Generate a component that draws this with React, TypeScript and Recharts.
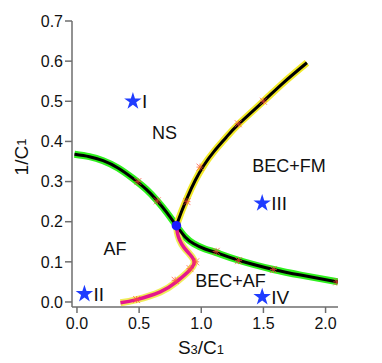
import React from 'react';
import {
  ComposedChart,
  Line,
  Scatter,
  XAxis,
  YAxis,
  Symbols,
} from 'recharts';

// phase boundaries (x = s3/c1, y = 1/c1)
const afBoundary = [
  { x: -0.02, y: 0.368 }, { x: 0.1, y: 0.362 }, { x: 0.21, y: 0.352 },
  { x: 0.33, y: 0.334 }, { x: 0.45, y: 0.308 }, { x: 0.56, y: 0.28 },
  { x: 0.64, y: 0.254 }, { x: 0.72, y: 0.224 }, { x: 0.8, y: 0.19 },
  { x: 0.87, y: 0.162 }, { x: 0.94, y: 0.145 }, { x: 1.03, y: 0.132 },
  { x: 1.12, y: 0.123 }, { x: 1.3, y: 0.104 }, { x: 1.58, y: 0.081 },
  { x: 1.8, y: 0.067 }, { x: 2.1, y: 0.05 },
];

const fmBoundary = [
  { x: 0.8, y: 0.19 }, { x: 0.84, y: 0.224 }, { x: 0.89, y: 0.262 },
  { x: 0.95, y: 0.302 }, { x: 1.02, y: 0.34 }, { x: 1.1, y: 0.374 },
  { x: 1.2, y: 0.41 }, { x: 1.3, y: 0.443 }, { x: 1.5, y: 0.5 },
  { x: 1.66, y: 0.546 }, { x: 1.85, y: 0.596 },
];

const becAfBoundary = [
  { x: 0.8, y: 0.19 }, { x: 0.808, y: 0.172 }, { x: 0.825, y: 0.155 },
  { x: 0.86, y: 0.136 }, { x: 0.905, y: 0.12 }, { x: 0.938, y: 0.106 },
  { x: 0.94, y: 0.094 }, { x: 0.9, y: 0.077 }, { x: 0.8, y: 0.05 },
  { x: 0.67, y: 0.025 }, { x: 0.48, y: 0.006 }, { x: 0.35, y: -0.002 },
];

// computed points (red crosses)
const samples = [
  { x: 0.49, y: 0.3 }, { x: 0.646, y: 0.252 }, { x: 1.12, y: 0.126 },
  { x: 1.3, y: 0.103 }, { x: 1.58, y: 0.081 }, { x: 2.09, y: 0.05 },
  { x: 0.885, y: 0.25 }, { x: 0.99, y: 0.336 }, { x: 1.298, y: 0.444 },
  { x: 1.5, y: 0.5 },
  { x: 0.955, y: 0.1 }, { x: 0.91, y: 0.083 }, { x: 0.79, y: 0.054 },
  { x: 0.48, y: 0.006 },
];

const triplePoint = [{ x: 0.8, y: 0.19 }];

const stars = [
  { x: 0.45, y: 0.5, name: 'I' },
  { x: 0.06, y: 0.02, name: 'II' },
  { x: 1.49, y: 0.246, name: 'III' },
  { x: 1.49, y: 0.0125, name: 'IV' },
];

const phaseLabels = [
  { x: 0.704, y: 0.4225, name: 'NS' },
  { x: 1.706, y: 0.34, name: 'BEC+FM' },
  { x: 0.306, y: 0.134, name: 'AF' },
  { x: 1.235, y: 0.054, name: 'BEC+AF' },
];

const xTicks = [0, 0.5, 1, 1.5, 2];
const yTicks = [0, 0.1, 0.2, 0.3, 0.4, 0.5, 0.6, 0.7];

const font = '"Liberation Sans", Arial, Helvetica, sans-serif';
const axisColor = '#6e6e6e';

const Cross = ({ cx, cy }: any) => {
  const r = 3.5;
  return (
    <g stroke="#ff4a3a" strokeWidth={1} opacity={0.7}>
      <line x1={cx - r} y1={cy - r} x2={cx + r} y2={cy + r} />
      <line x1={cx - r} y1={cy + r} x2={cx + r} y2={cy - r} />
      <line x1={cx - r} y1={cy} x2={cx + r} y2={cy} />
      <line x1={cx} y1={cy - r} x2={cx} y2={cy + r} />
    </g>
  );
};

const StarMark = ({ cx, cy, payload }: any) => (
  <g>
    <Symbols cx={cx} cy={cy} type="star" size={95} fill="#1f3cff" />
    <text x={cx + 9} y={cy + 7} fontSize={19} fontFamily={font} fill="#111">
      {payload.name}
    </text>
  </g>
);

const PhaseText = ({ cx, cy, payload }: any) => (
  <text x={cx} y={cy + 6.5} textAnchor="middle" fontSize={18} fontFamily={font} fill="#111">
    {payload.name}
  </text>
);

const YLabel = ({ viewBox }: any) => {
  const cx = 21;
  const cy = viewBox.y + viewBox.height / 2 - 7;
  return (
    <text
      x={cx}
      y={cy}
      transform={`rotate(-90, ${cx}, ${cy})`}
      textAnchor="middle"
      dominantBaseline="central"
      fontSize={19}
      fontFamily={font}
      fill="#111"
    >
      1/C<tspan fontSize={13}>1</tspan>
    </text>
  );
};

const XLabel = ({ viewBox }: any) => {
  const cx = viewBox.x + viewBox.width / 2 - 4;
  return (
    <text x={cx} y={354} textAnchor="middle" fontSize={19} fontFamily={font} fill="#111">
      S<tspan fontSize={13}>3</tspan>/C<tspan fontSize={13}>1</tspan>
    </text>
  );
};

export default function App() {
  return (
    <div style={{ position: 'absolute', left: 0, top: 0, width: 382, height: 363, background: '#fff' }}>
      <ComposedChart width={382} height={363} margin={{ top: 21, right: 44, bottom: 0, left: 0 }}>
        <XAxis
          type="number"
          dataKey="x"
          domain={[-0.04, 2.1]}
          ticks={xTicks}
          tickFormatter={(v: number) => v.toFixed(1)}
          allowDataOverflow
          height={56}
          stroke={axisColor}
          strokeWidth={1.5}
          tickSize={6}
          tickMargin={5}
          tick={{ fill: '#111', fontSize: 16, fontFamily: font }}
          label={<XLabel />}
        />
        <YAxis
          type="number"
          dataKey="y"
          domain={[-0.0125, 0.7]}
          ticks={yTicks}
          tickFormatter={(v: number) => v.toFixed(1)}
          allowDataOverflow
          width={72}
          stroke={axisColor}
          strokeWidth={1.5}
          tickSize={7}
          tickMargin={2}
          tick={{ fill: '#111', fontSize: 16, fontFamily: font }}
          label={<YLabel />}
        />

        {/* halos */}
        <Line data={afBoundary} dataKey="y" type="natural" stroke="#2ef01e" strokeWidth={7} dot={false} activeDot={false} isAnimationActive={false} />
        <Line data={fmBoundary} dataKey="y" type="natural" stroke="#f2ea2a" strokeWidth={7} dot={false} activeDot={false} isAnimationActive={false} />
        <Line data={becAfBoundary} dataKey="y" type="natural" stroke="#f0ec5a" strokeWidth={7} dot={false} activeDot={false} isAnimationActive={false} />

        <Scatter data={samples} dataKey="y" shape={<Cross />} isAnimationActive={false} />

        {/* cores */}
        <Line data={afBoundary} dataKey="y" type="natural" stroke="#000" strokeWidth={3} dot={false} activeDot={false} isAnimationActive={false} />
        <Line data={fmBoundary} dataKey="y" type="natural" stroke="#000" strokeWidth={3} dot={false} activeDot={false} isAnimationActive={false} />
        <Line data={becAfBoundary} dataKey="y" type="natural" stroke="#e5168e" strokeWidth={3.5} dot={false} activeDot={false} isAnimationActive={false} />

        <Scatter
          data={triplePoint}
          dataKey="y"
          shape={(p: any) => <circle cx={p.cx} cy={p.cy} r={4.8} fill="#1a1aff" />}
          isAnimationActive={false}
        />
        <Scatter data={stars} dataKey="y" shape={<StarMark />} isAnimationActive={false} />
        <Scatter data={phaseLabels} dataKey="y" shape={<PhaseText />} isAnimationActive={false} />
      </ComposedChart>
    </div>
  );
}
